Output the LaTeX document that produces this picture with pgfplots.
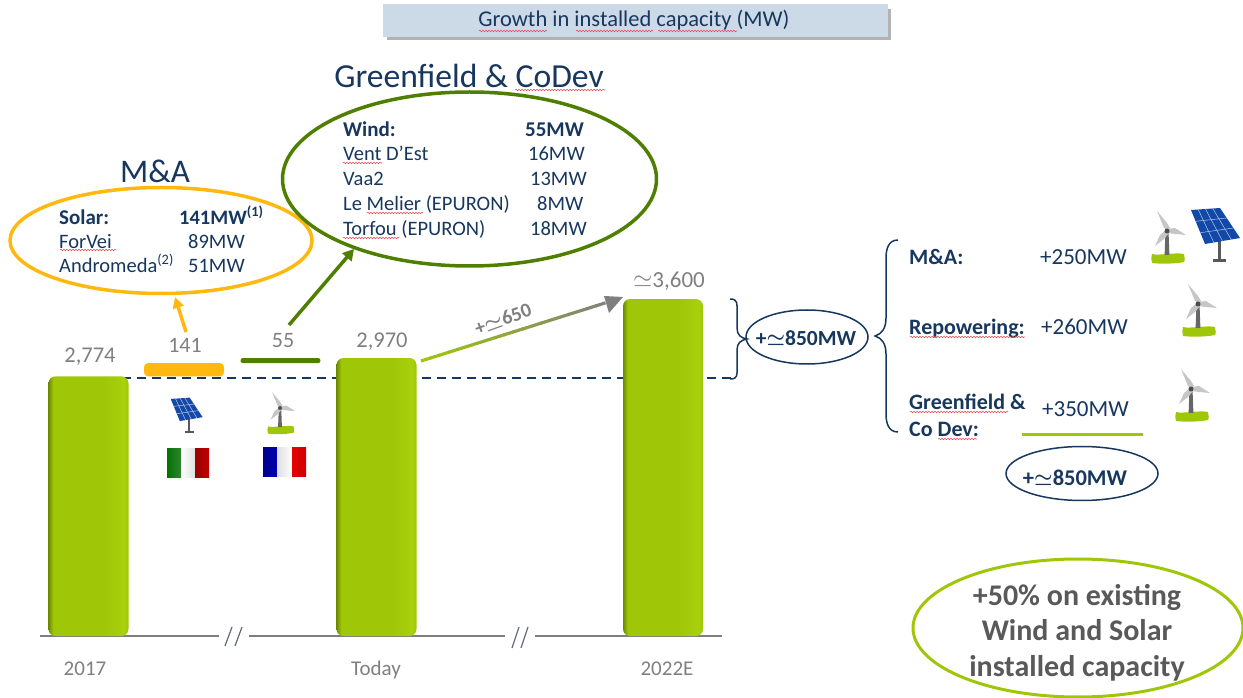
\documentclass[border=0pt]{standalone}
\usepackage{pgfplots}
\pgfplotsset{compat=1.18}
\usepackage{fontspec}
\setmainfont{Carlito}
\usetikzlibrary{decorations.pathmorphing,arrows.meta,calc}
\definecolor{navy}{HTML}{17375E}
\definecolor{gtxt}{HTML}{7F7F7F}
\definecolor{dtxt}{HTML}{595959}
\definecolor{lime}{HTML}{9FC708}
\definecolor{limeD}{HTML}{6F8A00}
\definecolor{limeL}{HTML}{A9D00C}
\definecolor{amber}{HTML}{FFB80F}
\definecolor{olive}{HTML}{4F7F00}
\definecolor{sq}{HTML}{E8484F}
\definecolor{titlebg}{HTML}{CCDAE8}
\definecolor{panelblue}{HTML}{1248A8}
\pgfdeclarehorizontalshading{barG}{100bp}{color(0bp)=(limeD); color(25bp)=(limeD); color(28bp)=(lime); color(60bp)=(lime); color(72bp)=(limeL); color(75bp)=(lime); color(100bp)=(lime)}
\newcommand{\fs}[1]{\fontsize{#1}{#1}\selectfont}
\newcommand{\T}[5][navy]{\node[anchor=base west,inner sep=0pt,text=#1,yshift=-0.35*#4pt] at (#2,#3) {\fs{#4}#5};}
\newcommand{\C}[5][navy]{\node[anchor=base,inner sep=0pt,text=#1,yshift=-0.35*#4pt] at (#2,#3) {\fs{#4}#5};}
\newcommand{\sq}[3]{\draw[sq,line width=.55pt,decorate,decoration={snake,amplitude=.7pt,segment length=3pt}] (#1,#3) -- (#2,#3);}
\newcommand{\turbine}[3]{\begin{scope}[shift={(#1,#2)},scale=#3]
  \fill[lime] (-15,23) .. controls (-8,25) and (8,21) .. (17,23) .. controls (18,26) and (18,30) .. (17,31) .. controls (8,33) and (-8,33) .. (-15,32) .. controls (-16,29) and (-16,26) .. (-15,23) -- cycle;
  \fill[gray!80!black] (-1.5,0) -- (1.5,0) -- (2.4,24) -- (-2.4,24) -- cycle;
  \fill[gray!45] (1,0) -- (-3,-3) -- (-10,-20) -- (0,-8) -- (3,-3) -- cycle;
  \fill[gray!45] (0,-2) -- (8,-3) -- (19,4) -- (8,3) -- (0,2) -- cycle;
  \fill[gray!45] (-2,0) -- (2,2) -- (-3,8) -- (-12,15) -- (-7,4) -- cycle;
  \fill[black!70] (0,0) circle (2.5);
\end{scope}}
\newcommand{\panel}[3]{\begin{scope}[shift={(#1,#2)},scale=#3]
  \fill[gray!70!black] (2,14) rectangle (4.5,33);
  \fill[gray!70!black] (-3,32) rectangle (10,35);
  \fill[panelblue] (-25,-17) -- (4,-19) -- (24,11) -- (-11,17) -- cycle;
  \foreach \t in {0.25,0.5,0.75}{\draw[white!70!panelblue,line width=.5pt] ($(-25,-17)!\t!(4,-19)$) -- ($(-11,17)!\t!(24,11)$);}
  \foreach \t in {0.333,0.667}{\draw[white!70!panelblue,line width=.5pt] ($(-25,-17)!\t!(-11,17)$) -- ($(4,-19)!\t!(24,11)$);}
\end{scope}}
\begin{document}
\begin{tikzpicture}
\path[use as bounding box] (0pt,0pt) rectangle (1243pt,697pt);
\begin{axis}[
  at={(40pt,61pt)},anchor=south west,scale only axis,
  width=685pt,height=374.4pt,
  xmin=40,xmax=725,ymin=0,ymax=4000,
  clip=false,
  axis line style={draw=none},
  xtick={85,376,667},xticklabels={2017,Today,2022E},
  ytick=\empty,
  major tick length=0pt,
  xticklabel style={font=\fs{21},text=gtxt,anchor=base,yshift=-39pt},
  ybar stacked,bar width=80pt,
]
% the three full columns
\addplot[stack plots=false,draw=none,shading=barG,rounded corners=7pt] coordinates {(88.5,2774)};
\addplot[stack plots=false,draw=none,shading=barG,rounded corners=7pt] coordinates {(376.5,2970)};
\addplot[stack plots=false,draw=none,shading=barG,rounded corners=7pt] coordinates {(663,3600)};
% floating steps
\addplot[draw=none,fill=none] coordinates {(184,2774) (280.5,2915)};
\addplot[draw=none,fill=amber,rounded corners=4pt] coordinates {(184,141) (280.5,0)};
\addplot[draw=none,fill=olive,rounded corners=2.5pt] coordinates {(184,0) (280.5,55)};
% baseline
\addplot[stack plots=false,sharp plot,draw=gtxt,line width=2.2pt] coordinates {(40,0) (219,0)};
\addplot[stack plots=false,sharp plot,draw=gtxt,line width=2.2pt] coordinates {(249,0) (505,0)};
\addplot[stack plots=false,sharp plot,draw=gtxt,line width=2.2pt] coordinates {(535,0) (722,0)};
% reference level
\addplot[stack plots=false,sharp plot,draw=navy,line width=2pt,dash pattern=on 9pt off 6pt] coordinates {(122,2760) (735,2760)};
\end{axis}
\begin{scope}[shift={(0pt,697pt)},x=1pt,y=-1pt]
% title
\fill[gray!60] (387,9) rectangle (891,40);
\fill[titlebg] (383,4) rectangle (888,37);
\C{634}{19}{22.5}{Growth in installed capacity (MW)}
\sq{479}{547}{31}\sq{576}{653}{31}\sq{658}{737}{31}
% headings
\C{155}{171}{33}{M\&A}
\C{469}{76}{33.6}{Greenfield \& CoDev}
\sq{515}{605}{90}
% ellipses
\draw[amber,line width=3.5pt] (161,240.5) ellipse [x radius=151,y radius=53];
\draw[olive,line width=3.5pt] (469.5,179) ellipse [x radius=187,y radius=87];
% M&A text
\T{59}{217}{21}{\textbf{Solar:}}
\T{179}{217}{20.5}{\textbf{141MW\textsuperscript{(1)}}}
\T{59}{241}{20.5}{ForVei}\T{188}{241}{20.5}{89MW}
\T{59}{265}{20.5}{Andromeda\textsuperscript{(2)}}\T{188}{265}{20.5}{51MW}
\sq{60}{116}{250}
% Greenfield text
\T{343}{129}{21}{\textbf{Wind:}}\T{525}{129}{21}{\textbf{55MW}}
\T{343}{153}{20.5}{Vent D’Est}\T{528}{153}{20.5}{16MW}
\T{343}{178}{20.5}{Vaa2}\T{530}{178}{20.5}{13MW}
\T{343}{203}{20.5}{Le Melier (EPURON)}\T{537}{203}{20.5}{8MW}
\T{343}{228}{20.5}{Torfou (EPURON)}\T{530}{228}{20.5}{18MW}
\sq{343}{382}{163}\sq{367}{423}{213}\sq{343}{399}{238}
% arrows
\draw[amber,line width=3.5pt,-{Triangle[length=11pt,width=11pt]}] (186,332) -- (175,297);
\draw[olive,line width=3.5pt,-{Triangle[length=11pt,width=12pt]}] (289,325) -- (354,249);
\foreach \i in {0,...,19}{
  \pgfmathsetmacro{\p}{100-5*\i}
  \pgfmathsetmacro{\xa}{421+9.2*\i}\pgfmathsetmacro{\ya}{361-2.9*\i}
  \pgfmathsetmacro{\xb}{421+9.2*(\i+1)+.5}\pgfmathsetmacro{\yb}{361-2.9*(\i+1)-.16}
  \draw[color=lime!\p!gtxt,line width=3.2pt] (\xa,\ya) -- (\xb,\yb);
}
\fill[gtxt] (623,297) -- (604,296) -- (609,313) -- cycle;
\node[rotate=20,text=gtxt,inner sep=0pt] at (503,319) {\fs{20}\textbf{+{\boldmath$\simeq$}650}};
% value labels
\C[gtxt]{90}{355}{22.5}{2,774}
\C[gtxt]{185}{345}{22}{141}
\C[gtxt]{283}{340}{22}{55}
\C[gtxt]{382}{340}{22.5}{2,970}
\C[gtxt]{669}{279}{23}{$\simeq$3,600}
% braces
\draw[navy,line width=1.5pt] (730,299) .. controls (738,299) and (737,304) .. (737,310) -- (737,328) .. controls (737,335) and (741,338) .. (747,339) .. controls (741,340) and (737,343) .. (737,350) -- (737,368) .. controls (737,375) and (738,379) .. (730,379);
\draw[navy,line width=1.5pt] (898,240) .. controls (889,240) and (886,248) .. (886,258) -- (886,318) .. controls (886,328) and (882,334) .. (875,336) .. controls (882,338) and (886,344) .. (886,354) -- (886,414) .. controls (886,424) and (889,432) .. (898,432);
% summary ellipses
\draw[navy,line width=1.5pt] (807,337) ellipse [x radius=61,y radius=27];
\C{806}{338}{21.5}{\textbf{+{\boldmath$\simeq$}850MW}}
\draw[navy,line width=1.5pt] (1082,473.5) ellipse [x radius=76,y radius=27];
\C{1075}{478}{22.5}{\textbf{+{\boldmath$\simeq$}850MW}}
% right list
\T{909}{257}{22}{\textbf{M\&A:}}\T{1040}{256}{23}{+250MW}
\T{909}{327}{22}{\textbf{Repowering:}}\T{1041}{326}{23}{+260MW}
\T{909}{402}{22}{\textbf{Greenfield \&}}\T{1042}{408}{23}{+350MW}
\T{909}{429}{22}{\textbf{Co Dev:}}
\sq{910}{1025}{337}\sq{910}{1008}{412}\sq{938}{977}{439}
\draw[lime,line width=3pt] (1022,435) -- (1143,435);
% icons
\turbine{1167}{231}{1}\panel{1216}{227}{1}
\turbine{1198}{304}{1}
\turbine{1191}{389}{1}
\turbine{280}{408}{.8}\panel{187}{410}{.65}
% flags
\shade[left color=green!45!black,right color=green!40!black!80] (167,449) rectangle (181,478);
\shade[left color=white,right color=gray!25] (181,449) rectangle (195,478);
\shade[left color=red!60!black,right color=red!75!black] (195,449) rectangle (209,478);
\shade[left color=blue!55!black,right color=blue!70!black] (263,448) rectangle (277,477);
\shade[left color=gray!25,right color=white] (277,448) rectangle (292,477);
\shade[left color=red!90!black,right color=red!80!black] (292,448) rectangle (306,477);
% breaks
\foreach \a in {225,235}{\draw[gtxt!70!navy,line width=1.2pt] (\a,646) -- (\a+7,627);}
\foreach \a in {512,521}{\draw[gtxt!70!navy,line width=1.2pt] (\a,648) -- (\a+7,627);}
% +50% ellipse
\draw[lime,line width=3pt] (1078,628) ellipse [x radius=165,y radius=69];
\C[dtxt]{1077}{595}{30}{\textbf{+50\% on existing}}
\C[dtxt]{1077}{630}{30}{\textbf{Wind and Solar}}
\C[dtxt]{1077}{666}{30}{\textbf{installed capacity}}
\end{scope}
\end{tikzpicture}
\end{document}
